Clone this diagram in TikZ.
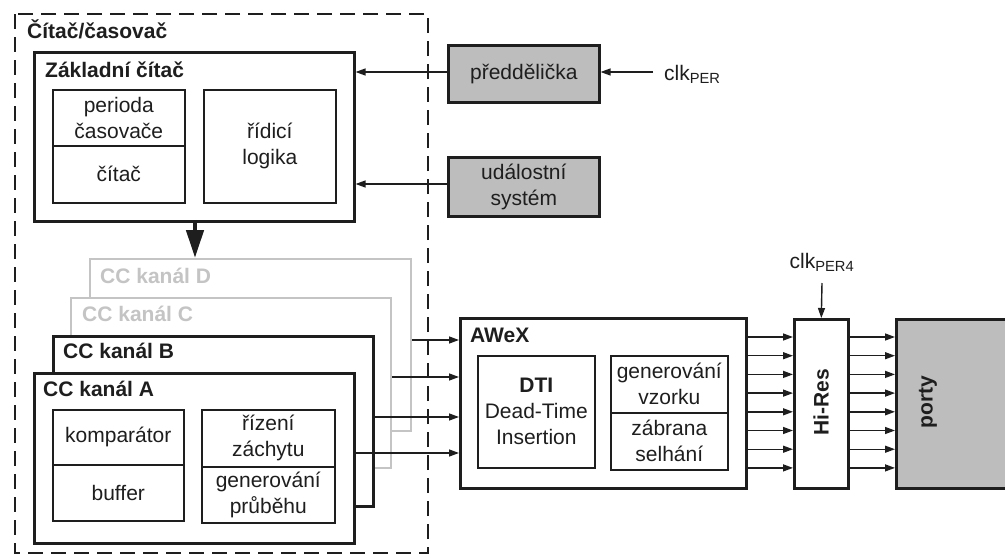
\documentclass[tikz,border=0pt]{standalone}
\usepackage{fontspec}
\setmainfont{Liberation Sans}
\usetikzlibrary{arrows.meta}
\definecolor{ink}{HTML}{1E1E1E}
\definecolor{boxgray}{HTML}{BDBDBD}
\definecolor{ghost}{HTML}{C4C4C4}
\tikzset{
  base/.style={font=\fontsize{21}{26}\selectfont, text=ink},
  thickbox/.style={draw=ink, line width=2.6pt, fill=white, anchor=north west, inner sep=0pt},
  ghostbox/.style={draw=ghost, line width=2pt, fill=white, anchor=north west, inner sep=0pt},
  thinbox/.style={draw=ink, line width=1.6pt, anchor=north west, inner sep=0pt, align=center, base},
  graybox/.style={draw=ink, line width=2.6pt, fill=boxgray, anchor=north west, inner sep=0pt, align=center, base},
  title/.style={base, font=\fontsize{21}{26}\selectfont\bfseries, anchor=base west, inner sep=0pt},
  arr/.style={draw=ink, line width=1.4pt, -{Triangle[length=10pt,width=7pt]}},
  bigarr/.style={draw=ink, line width=4.5pt, -{Triangle[length=28pt,width=17pt]}},
}
\begin{document}
\begin{tikzpicture}[x=1pt,y=-1pt]
\useasboundingbox (0,0) rectangle (1005,558);
\clip (0,0) rectangle (1005,558);
\fill[white] (0,0) rectangle (1005,558);
% outer dashed frame
\draw[ink, line width=1.6pt, dash pattern=on 15pt off 8pt] (15,14) rectangle (428,553);
\node[title] (ttl) at (27,38) {Čítač/časovač};
% Zakladni citac
\node[thickbox, minimum width=320, minimum height=169] (zc) at (33,51) {};
\node[title] (zct) at (45,77) {Základní čítač};
\node[thinbox, minimum width=132, minimum height=56] (per) at (52,89) {perioda\\časovače};
\node[thinbox, minimum width=132, minimum height=57] (cit) at (52,145) {čítač};
\node[thinbox, minimum width=132, minimum height=113] (rid) at (203,89) {řídicí\\logika};
% channels
\node[ghostbox, minimum width=321, minimum height=172] (chD) at (89,258) {};
\node[title, text=ghost] (chDt) at (100,283) {CC kanál D};
\node[ghostbox, minimum width=320, minimum height=170] (chC) at (70,297) {};
\node[title, text=ghost] (chCt) at (82,321) {CC kanál C};
\node[thickbox, minimum width=320, minimum height=170] (chB) at (52,335) {};
\node[title] (chBt) at (63,358) {CC kanál B};
\node[thickbox, minimum width=320, minimum height=170] (chA) at (33,372) {};
\node[title] (chAt) at (43,396) {CC kanál A};
\node[thinbox, minimum width=131, minimum height=55] (kom) at (52,409) {komparátor};
\node[thinbox, minimum width=131, minimum height=56] (buf) at (52,464) {buffer};
\node[thinbox, minimum width=133, minimum height=57] (riz) at (201,409) {řízení\\záchytu};
\node[thinbox, minimum width=133, minimum height=56] (gen) at (201,466) {generování\\průběhu};
% big arrow
\coordinate (dtop) at (195,258);
\draw[bigarr] (zc.south -| dtop) -- (dtop);
% prescaler and event system
\node[graybox, minimum width=151, minimum height=57] (pre) at (447,44) {předdělička};
\node[graybox, minimum width=151, minimum height=59] (evs) at (447,156) {událostní\\systém};
\node[base, anchor=base west, inner sep=0pt] (clkp) at (664,80) {clk\textsubscript{PER}};
\coordinate (cpin) at (653,72);
\draw[arr] (cpin) -- (pre.east |- cpin);
\draw[arr] (pre.west |- cpin) -- (zc.east |- cpin);
\coordinate (evy) at (0,184);
\draw[arr] (evs.west |- evy) -- (zc.east |- evy);
% AWeX
\node[thickbox, minimum width=286, minimum height=170] (awex) at (459,317) {};
\node[title] (awt) at (470,342) {AWeX};
\node[thinbox, minimum width=117, minimum height=112] (dti) at (477,355) {\textbf{DTI}\\Dead-Time\\Insertion};
\node[thinbox, minimum width=117, minimum height=57] (gvz) at (610,355) {generování\\vzorku};
\node[thinbox, minimum width=117, minimum height=57] (zab) at (610,412) {zábrana\\selhání};
% channel outputs
\coordinate (yD) at (0,340);
\coordinate (yC) at (0,377);
\coordinate (yB) at (0,417);
\coordinate (yA) at (0,453);
\draw[arr] (chD.east |- yD) -- (awex.west |- yD);
\draw[arr] (chC.east |- yC) -- (awex.west |- yC);
\draw[arr] (chB.east |- yB) -- (awex.west |- yB);
\draw[arr] (chA.east |- yA) -- (awex.west |- yA);
% Hi-Res
\node[thickbox, minimum width=54, minimum height=169] (hires) at (793,318) {};
\node[base, font=\fontsize{21}{26}\selectfont\bfseries, rotate=90, inner sep=0pt] (hrt) at (821,402) {Hi-Res};
\coordinate (ck4) at (822,283);
\node[base, anchor=base, inner sep=0pt] (clk4) at (822,268) {clk\textsubscript{PER4}};
\draw[arr] (ck4) -- (hires.north);
% porty
\node[graybox, minimum width=130, minimum height=169] (porty) at (895,318) {};
\node[base, font=\fontsize{21}{26}\selectfont\bfseries, rotate=90, inner sep=0pt] (pt) at (928,402) {porty};
\foreach \i in {0,...,7} {
  \coordinate (r\i) at (0,{337+18.7*\i});
  \draw[arr] (awex.east |- r\i) -- (hires.west |- r\i);
  \draw[arr] (hires.east |- r\i) -- (porty.west |- r\i);
}
\end{tikzpicture}
\end{document}
